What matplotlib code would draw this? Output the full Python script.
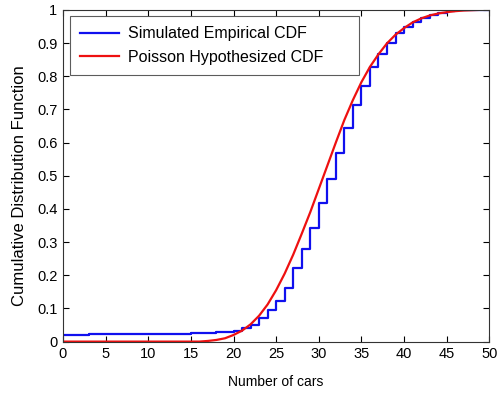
import matplotlib
matplotlib.use('Agg')
import matplotlib.pyplot as plt

plt.rcParams['font.family'] = ['Liberation Sans', 'DejaVu Sans']

# number of cars (integer grid)
cars = list(range(0, 51))

# simulated empirical CDF, value on [k, k+1)
empirical_cdf = [0.019, 0.019, 0.021, 0.022, 0.022, 0.022, 0.022, 0.022, 0.022, 0.022,
                 0.023, 0.023, 0.023, 0.023, 0.024, 0.025, 0.025, 0.026, 0.028, 0.030,
                 0.033, 0.040, 0.050, 0.072, 0.095, 0.123, 0.163, 0.221, 0.278, 0.341,
                 0.417, 0.490, 0.569, 0.644, 0.713, 0.769, 0.827, 0.868, 0.900, 0.929,
                 0.947, 0.962, 0.975, 0.985, 0.992, 0.996, 0.999, 1.0, 1.0, 1.0, 1.0]

# poisson hypothesized CDF read at integer points
poisson_cdf = [0.0, 0.0, 0.0, 0.0, 0.0, 0.0, 0.0, 0.0, 0.0, 0.0,
               0.0, 0.0, 0.0, 0.0, 0.0, 0.0, 0.0, 0.002, 0.005, 0.010,
               0.020, 0.033, 0.052, 0.078, 0.112, 0.155, 0.205, 0.262, 0.325, 0.390,
               0.460, 0.530, 0.600, 0.668, 0.728, 0.782, 0.828, 0.866, 0.899, 0.925,
               0.945, 0.962, 0.974, 0.983, 0.989, 0.993, 0.996, 0.998, 0.999, 1.0, 1.0]

fig = plt.figure(figsize=(4.98, 3.94), dpi=100)
ax = fig.add_axes([0.1265, 0.133, 0.856, 0.842])

ax.plot(cars, empirical_cdf, color='#1010ee', lw=1.6, drawstyle='steps-post',
        label='Simulated Empirical CDF')
ax.plot(cars, poisson_cdf, color='#ee1010', lw=1.6, label='Poisson Hypothesized CDF')

ax.set_xlim(0, 50)
ax.set_ylim(0, 1)
ax.set_xticks(range(0, 51, 5))
ax.set_yticks([i / 10 for i in range(11)])
ax.set_yticklabels(['0', '0.1', '0.2', '0.3', '0.4', '0.5', '0.6', '0.7', '0.8', '0.9', '1'])
ax.tick_params(direction='in', length=4, top=True, right=True, labelsize=10.5, pad=4)
for s in ax.spines.values():
    s.set_linewidth(0.8)
    s.set_color('#333333')

ax.set_xlabel('Number of cars', fontsize=10, labelpad=10)
ax.set_ylabel('Cumulative Distribution Function', fontsize=12)
ax.yaxis.set_label_coords(-0.085, 0.47)

leg = ax.legend(loc='upper left', fontsize=11.5, frameon=True, fancybox=False,
                edgecolor='#333333', bbox_to_anchor=(0.0164, 0.982, 0.679, 0.0),
                mode='expand', borderaxespad=0, handlelength=2.4, handletextpad=0.6,
                borderpad=0.65, labelspacing=0.55)
leg.get_frame().set_linewidth(0.8)

fig.savefig('out.png', dpi=100)
